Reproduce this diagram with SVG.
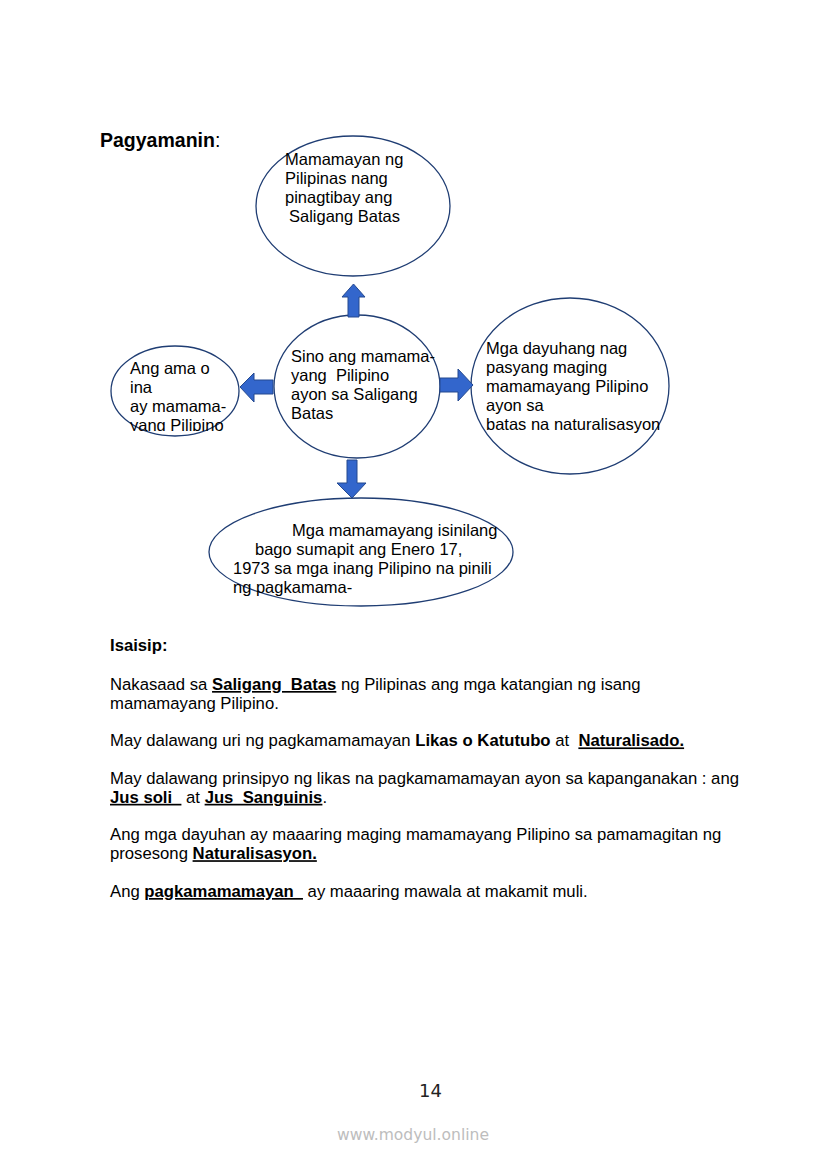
<svg xmlns="http://www.w3.org/2000/svg" width="826" height="1169" viewBox="0 0 826 1169">
<style>
.bg{fill:#ffffff}
.ell{fill:#ffffff;stroke:#1f3d73;stroke-width:1.3}
.arr{fill:#3366cc;stroke:#24498f;stroke-width:1}
.t{font-family:"Liberation Sans",Arial,sans-serif;font-size:16.5px;fill:#000;white-space:pre}
.tb{font-family:"Liberation Sans",Arial,sans-serif;font-size:16.7px;fill:#000;white-space:pre}
.b{font-weight:bold}
.u{font-weight:bold;text-decoration:underline}
.h{font-family:"Liberation Sans",Arial,sans-serif;font-size:19.5px;fill:#000}
.pg{font-family:"DejaVu Sans",sans-serif;font-size:18px;fill:#222}
.wm{font-family:"DejaVu Sans",sans-serif;font-size:15px;fill:#bdbdbd}
</style>
<defs>
<clipPath id="clipLeft"><rect x="100" y="340" width="160" height="91"/></clipPath>
<clipPath id="clipBottom"><rect x="200" y="500" width="320" height="98"/></clipPath>
</defs>
<rect class="bg" x="0" y="0" width="826" height="1169"/>

<text class="h" x="100" y="147"><tspan class="b">Pagyamanin</tspan>:</text>

<g id="node-top">
<ellipse class="ell" cx="353" cy="206" rx="97" ry="70"/>
<text class="t" x="285" y="165">Mamamayan ng</text>
<text class="t" x="285" y="184">Pilipinas nang</text>
<text class="t" x="285" y="203">pinagtibay ang</text>
<text class="t" x="289" y="222">Saligang Batas</text>
</g>

<g id="node-center">
<ellipse class="ell" cx="357" cy="386.5" rx="83" ry="71.5"/>
<text class="t" x="291" y="362">Sino ang mamama-</text>
<text class="t" x="291" y="381" xml:space="preserve">yang  Pilipino</text>
<text class="t" x="291" y="400">ayon sa Saligang</text>
<text class="t" x="291" y="419">Batas</text>
</g>

<g id="node-left">
<ellipse class="ell" cx="175" cy="391" rx="64" ry="45"/>
<g clip-path="url(#clipLeft)">
<text class="t" x="130" y="374">Ang ama o</text>
<text class="t" x="130" y="393">ina</text>
<text class="t" x="130" y="412">ay mamama-</text>
<text class="t" x="130" y="431">yang Pilipino</text>
</g>
</g>

<g id="node-right">
<ellipse class="ell" cx="570" cy="386" rx="99" ry="88"/>
<text class="t" x="486" y="354">Mga dayuhang nag</text>
<text class="t" x="486" y="373">pasyang maging</text>
<text class="t" x="486" y="392">mamamayang Pilipino</text>
<text class="t" x="486" y="411">ayon sa</text>
<text class="t" x="486" y="430">batas na naturalisasyon</text>
</g>

<g id="node-bottom">
<ellipse class="ell" cx="361" cy="552" rx="152" ry="54"/>
<g clip-path="url(#clipBottom)">
<text class="t" x="292" y="536">Mga mamamayang isinilang</text>
<text class="t" x="255" y="555">bago sumapit ang Enero 17,</text>
<text class="t" x="233" y="574">1973 sa mga inang Pilipino na pinili</text>
<text class="t" x="233" y="593">ng pagkamama-</text>
</g>
</g>

<g id="connectors">
<polygon class="arr" points="353.5,284 365,297 359,297 359,317 348,317 348,297 342,297"/>
<polygon class="arr" points="240,387 254,373 254,380 273,380 273,394 254,394 254,402"/>
<polygon class="arr" points="440,378 458,378 458,369 473,385 458,401 458,392 440,392"/>
<polygon class="arr" points="347,460 357,460 357,483 366,483 352,498 337,483 347,483"/>
</g>

<g id="isaisip">
<text class="tb b" x="110" y="651">Isaisip:</text>
<text class="tb" x="110" y="690" xml:space="preserve">Nakasaad sa <tspan class="u">Saligang  Batas</tspan> ng Pilipinas ang mga katangian ng isang</text>
<text class="tb" x="110" y="708.8">mamamayang Pilipino.</text>
<text class="tb" x="110" y="746.4" xml:space="preserve">May dalawang uri ng pagkamamamayan <tspan class="b">Likas o Katutubo</tspan> at  <tspan class="u">Naturalisado.</tspan></text>
<text class="tb" x="110" y="784">May dalawang prinsipyo ng likas na pagkamamamayan ayon sa kapanganakan : ang</text>
<text class="tb" x="110" y="802.8" xml:space="preserve"><tspan class="u">Jus soli  </tspan> at <tspan class="u">Jus  Sanguinis</tspan>.</text>
<text class="tb" x="110" y="840.4">Ang mga dayuhan ay maaaring maging mamamayang Pilipino sa pamamagitan ng</text>
<text class="tb" x="110" y="859.2" xml:space="preserve">prosesong <tspan class="u">Naturalisasyon.</tspan></text>
<text class="tb" x="110" y="897" xml:space="preserve">Ang <tspan class="u">pagkamamamayan  </tspan> ay maaaring mawala at makamit muli.</text>
</g>

<text class="pg" x="419" y="1097">14</text>
<text class="wm" x="337" y="1140" textLength="152" lengthAdjust="spacingAndGlyphs">www.modyul.online</text>
</svg>
